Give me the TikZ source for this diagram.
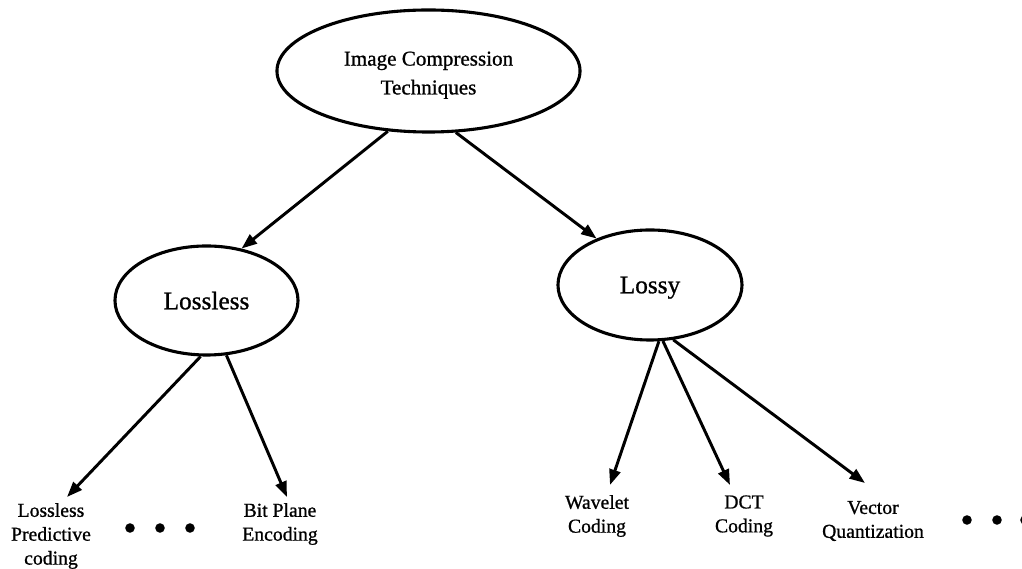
\documentclass[tikz,border=0pt]{standalone}
\usepackage{fontspec}
\setmainfont[FakeBold=0.9]{Liberation Serif}
\usetikzlibrary{arrows.meta,shapes.geometric}
\begin{document}
\begin{tikzpicture}[x=0.025cm,y=-0.025cm,
  bubble/.style={draw,ellipse,line width=2.2pt,inner sep=0pt,align=center},
  leaf/.style={align=center,inner sep=0pt,font=\fontsize{14}{17}\selectfont},
  conn/.style={line width=2.1pt,-{Triangle[length=11pt,width=8pt]}},
  dotnode/.style={circle,fill,inner sep=0pt,minimum size=6.8pt}]
\clip (0,0) rectangle (1022,569);
% ellipses
\node[bubble,minimum width=7.575cm,minimum height=3.05cm,font=\fontsize{15}{20.5}\selectfont] (top) at (428.5,71) {\rule{0pt}{16pt}Image Compression\\Techniques};
\node[bubble,minimum width=4.575cm,minimum height=2.725cm,text depth=0pt,font=\fontsize{18}{22}\selectfont] (lossless) at (206.5,300.5) {Lossless};
\node[bubble,minimum width=4.6cm,minimum height=2.75cm,text depth=0pt,font=\fontsize{18}{22}\selectfont] (lossy) at (650,285) {Lossy};
% leaves
\node[leaf] (lpc) at (51,536) {Lossless\\Predictive\\coding};
\node[leaf] (bpe) at (280,524) {Bit Plane\\Encoding};
\node[leaf] (wav) at (597,516) {Wavelet\\Coding};
\node[leaf] (dct) at (744,516) {DCT\\Coding};
\node[leaf] (vq) at (873,521) {Vector\\Quantization};
% arrow tips
\coordinate (t1) at (67,497);
\coordinate (t2) at (287,497);
\coordinate (t3) at (610,485);
\coordinate (t4) at (730,485);
\coordinate (t5) at (865,483);
% dots
\node[dotnode] (d1) at (130,528) {};
\node[dotnode] (d2) at (160,528) {};
\node[dotnode] (d3) at (190,528) {};
\node[dotnode] (d4) at (967,520) {};
\node[dotnode] (d5) at (997,520) {};
\node[dotnode] (d6) at (1025,520) {};
% connectors
\draw[conn] (top.-124.6) -- (lossless.56.5);
\draw[conn] (top.-66.2) -- (lossy.139.7);
\draw[conn] (lossless.-96.8) -- (t1);
\draw[conn] (lossless.-70.9) -- (t2);
\draw[conn] (lossy.-81.7) -- (t3);
\draw[conn] (lossy.-77.7) -- (t4);
\draw[conn] (lossy.-67.6) -- (t5);
\end{tikzpicture}
\end{document}
